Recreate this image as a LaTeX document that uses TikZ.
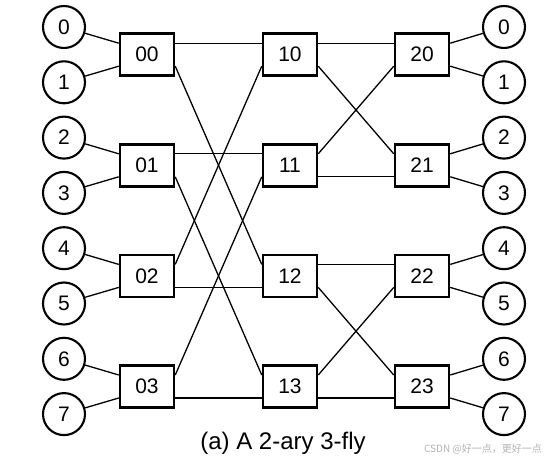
\documentclass[tikz,border=0pt]{standalone}
\usepackage{fontspec}
\setmainfont{Liberation Sans}
\newfontfamily\cjk{Noto Sans CJK SC}
\begin{document}
\begin{tikzpicture}[x=1pt,y=-1pt,
  term/.style={circle,draw,line width=2.1pt,minimum size=42pt,inner sep=0pt,font=\fontsize{21}{24}\selectfont},
  sw/.style={rectangle,draw,line width=2.5pt,minimum width=54pt,minimum height=42pt,inner sep=0pt,font=\fontsize{21}{24}\selectfont},
  wire/.style={line width=1.3pt}]
\useasboundingbox (0,0) rectangle (544,460);
% terminals
\foreach \i in {0,...,7}{
  \node[term] (l\i) at (64,{27+55.3*\i}) {\i};
  \node[term] (r\i) at (504,{27+55.3*\i}) {\i};
}
% switches
\foreach \j in {0,...,3}{
  \node[sw] (b0\j) at (147,{54.7+110.6*\j}) {0\j};
  \node[sw] (b1\j) at (290,{54.7+110.6*\j}) {1\j};
  \node[sw] (b2\j) at (422,{54.7+110.6*\j}) {2\j};
}
% terminal links
\foreach \j/\a/\b in {0/0/1,1/2/3,2/4/5,3/6/7}{
  \draw[wire] (l\a) -- ([yshift=11.5pt]b0\j.west);
  \draw[wire] (l\b) -- ([yshift=-11.5pt]b0\j.west);
  \draw[wire] ([yshift=11.5pt]b2\j.east) -- (r\a);
  \draw[wire] ([yshift=-11.5pt]b2\j.east) -- (r\b);
}
% stage links
\foreach \s/\sp/\t/\tp in {00/11.5/10/11.5, 00/-11.5/12/11.5, 01/11.5/11/11.5, 01/-11.5/13/11.5,
  02/11.5/10/-11.5, 02/-11.5/12/-11.5, 03/11.5/11/-11.5, 03/-11.5/13/-11.5,
  10/11.5/20/11.5, 10/-11.5/21/11.5, 11/11.5/20/-11.5, 11/-11.5/21/-11.5,
  12/11.5/22/11.5, 12/-11.5/23/11.5, 13/11.5/22/-11.5, 13/-11.5/23/-11.5}{
  \draw[wire] ([yshift=\sp pt]b\s.east) -- ([yshift=\tp pt]b\t.west);
}
\node[font=\fontsize{24}{28}\selectfont] (cap) at (283,443) {(a) A 2-ary 3-fly};
\node[text=black!30,font=\cjk\fontsize{10}{12}\selectfont] (wm) at (483,449) {CSDN @好一点，更好一点};
\end{tikzpicture}
\end{document}
